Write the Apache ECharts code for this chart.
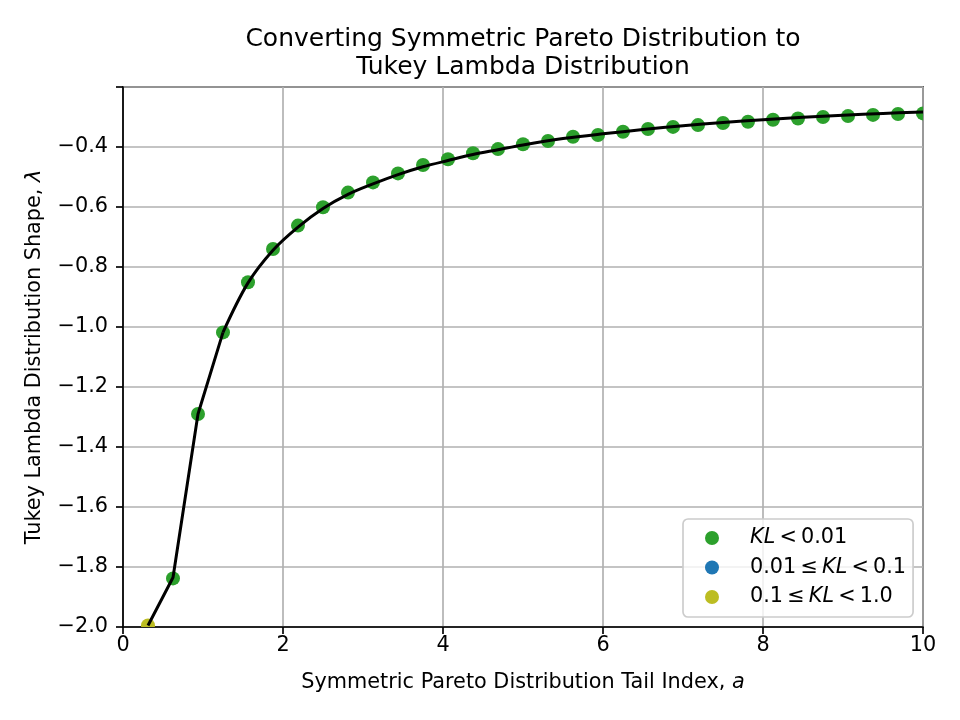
<!DOCTYPE html>
<html>
<head>
<meta charset="utf-8">
<script src="https://cdn.jsdelivr.net/npm/echarts@6/dist/echarts.min.js"></script>
<style>html,body{margin:0;padding:0;background:#fff;}#c{width:960px;height:720px;}</style>
</head>
<body>
<div id="c"></div>
<script>
// Sampled points: tail index a, Tukey lambda shape, KL class (0: KL<0.01, 1: 0.01<=KL<0.1, 2: 0.1<=KL<1.0)
const tailIndex = [0.3125, 0.625, 0.9375, 1.25, 1.5625, 1.875, 2.1875, 2.5, 2.8125, 3.125, 3.4375, 3.75,
  4.0625, 4.375, 4.6875, 5.0, 5.3125, 5.625, 5.9375, 6.25, 6.5625, 6.875, 7.1875, 7.5, 7.8125, 8.125,
  8.4375, 8.75, 9.0625, 9.375, 9.6875, 10.0];
const lambdaShape = [-1.995, -1.838, -1.29, -1.018, -0.851, -0.74, -0.662, -0.601, -0.552, -0.518, -0.488, -0.46,
  -0.441, -0.421, -0.407, -0.391, -0.38, -0.366, -0.36, -0.349, -0.34, -0.333, -0.327, -0.32, -0.316, -0.309,
  -0.305, -0.30, -0.297, -0.293, -0.29, -0.288];
const klClass = [2, 0, 0, 0, 0, 0, 0, 0, 0, 0, 0, 0, 0, 0, 0, 0, 0, 0, 0, 0, 0, 0, 0, 0, 0, 0, 0, 0, 0, 0, 0, 0];

// Conversion curve (steep part drawn straight, the rest smooth)
const curveX = [0.3125, 0.625, 0.9375, 1.25, 1.5625, 1.875, 2.1875, 2.5, 2.8125, 3.125, 3.4375, 3.75,
  4.0625, 4.375, 4.6875, 5.0, 5.5, 6.0, 6.5, 7.0, 7.5, 8.0, 8.5, 9.0, 9.5, 10.0];
const curveY = [-1.995, -1.835, -1.29, -1.018, -0.853, -0.744, -0.667, -0.605, -0.558, -0.523, -0.492, -0.466,
  -0.445, -0.425, -0.409, -0.393, -0.372, -0.356, -0.342, -0.329, -0.318, -0.309, -0.301, -0.294, -0.288, -0.283];
const curveBreakIndex = 3; // curve is straight up to curveX[3], smooth after

const classNames = ['KL < 0.01', '0.01 ≤ KL < 0.1', '0.1 ≤ KL < 1.0'];
const TS = '\u2009';
const classLegendRich = [
  '{i|KL}{t|' + TS + '<' + TS + '0.01}',
  '{t|0.01' + TS + '≤' + TS + '}{i|KL}{t|' + TS + '<' + TS + '0.1}',
  '{t|0.1' + TS + '≤' + TS + '}{i|KL}{t|' + TS + '<' + TS + '1.0}'
];
const classColors = ['#2ca02c', '#1f77b4', '#bcbd22'];

const xTicks = [0, 2, 4, 6, 8, 10];
const yTicks = [-2.0, -1.8, -1.6, -1.4, -1.2, -1.0, -0.8, -0.6, -0.4];

const FONT = 'DejaVu Sans';
const FS = 20.8;
const LW = 1.67;

const chart = echarts.init(document.getElementById('c'), null, {renderer: 'canvas'});

const scatterSeries = classNames.map((name, k) => ({
  type: 'custom',
  name: name,
  clip: true,
  z: 3,
  itemStyle: {color: classColors[k]},
  encode: {x: 0, y: 1},
  data: tailIndex.map((x, i) => [x, lambdaShape[i], klClass[i]]).filter(d => d[2] === k).map(d => [d[0], d[1]]),
  renderItem: function (params, api) {
    const p = api.coord([api.value(0), api.value(1)]);
    return {type: 'circle', shape: {cx: p[0], cy: p[1], r: 7}, style: {fill: api.visual('color')}};
  }
}));

const curvePts = curveX.map((x, i) => [x, curveY[i]]);
const lineBase = {type: 'line', showSymbol: false, symbol: 'none', z: 4, silent: true,
  lineStyle: {color: '#000', width: 3}, clip: true};

const option = {
  animation: false,
  backgroundColor: '#ffffff',
  textStyle: {fontFamily: FONT},
  title: {
    text: 'Converting Symmetric Pareto Distribution to\nTukey Lambda Distribution',
    left: 523, top: 25, padding: 0,
    textAlign: 'center',
    textStyle: {fontFamily: FONT, fontSize: 25, fontWeight: 'normal', color: '#000', lineHeight: 28}
  },
  grid: {
    left: 123, right: 37, top: 87, bottom: 93,
    show: true, borderColor: '#000', borderWidth: LW, backgroundColor: 'transparent'
  },
  legend: {
    orient: 'vertical',
    left: 683, top: 519,
    padding: [8.5, 7, 9.5, 22],
    itemGap: 8.5,
    itemWidth: 14, itemHeight: 14,
    icon: 'circle',
    data: classNames,
    backgroundColor: 'rgba(255,255,255,0.8)',
    borderColor: '#cccccc', borderWidth: LW, borderRadius: 5,
    selectedMode: false,
    formatter: function (name) {
      return '{sp|}' + classLegendRich[classNames.indexOf(name)];
    },
    textStyle: {
      fontFamily: FONT, fontSize: FS, color: '#000',
      rich: {
        sp: {width: 26},
        i: {fontFamily: FONT, fontSize: FS, fontStyle: 'italic', color: '#000'},
        t: {fontFamily: FONT, fontSize: FS, color: '#000'}
      }
    }
  },
  xAxis: {
    type: 'value', min: 0, max: 10, interval: 2,
    name: 'Symmetric Pareto Distribution Tail Index, {i|a}',
    nameLocation: 'middle', nameGap: 45,
    nameTextStyle: {fontFamily: FONT, fontSize: FS, color: '#000',
      rich: {i: {fontFamily: FONT, fontSize: FS, fontStyle: 'italic', color: '#000'}}},
    axisLine: {show: true, onZero: false, lineStyle: {color: '#000', width: LW}},
    axisTick: {show: true, inside: false, length: 7, lineStyle: {color: '#000', width: LW}},
    axisLabel: {fontFamily: FONT, fontSize: FS, color: '#000', margin: 8,
      formatter: v => (xTicks.indexOf(v) >= 0 ? String(v) : '')},
    splitLine: {show: true, lineStyle: {color: '#b0b0b0', width: LW}}
  },
  yAxis: {
    type: 'value', min: -2.0, max: -0.2, interval: 0.2,
    name: 'Tukey Lambda Distribution Shape, {i|λ}',
    nameLocation: 'middle', nameGap: 78, nameRotate: 90,
    nameTextStyle: {fontFamily: FONT, fontSize: FS, color: '#000',
      rich: {i: {fontFamily: FONT, fontSize: FS, fontStyle: 'italic', color: '#000'}}},
    axisLine: {show: true, onZero: false, lineStyle: {color: '#000', width: LW}},
    axisTick: {show: true, inside: false, length: 7, lineStyle: {color: '#000', width: LW}},
    axisLabel: {fontFamily: FONT, fontSize: FS, color: '#000', margin: 15,
      formatter: function (v) {
        const r = Math.round(v * 10) / 10;
        if (!yTicks.some(t => Math.abs(t - r) < 1e-9)) return '';
        return r.toFixed(1).replace('-', '\u2212');
      }},
    splitLine: {show: true, lineStyle: {color: '#b0b0b0', width: LW}}
  },
  series: scatterSeries.concat([
    Object.assign({}, lineBase, {name: 'curveSteep', data: curvePts.slice(0, curveBreakIndex + 1), smooth: false}),
    Object.assign({}, lineBase, {name: 'curveSmooth', data: curvePts.slice(curveBreakIndex), smooth: 0.35})
  ])
};
chart.setOption(option);
</script>
</body>
</html>
